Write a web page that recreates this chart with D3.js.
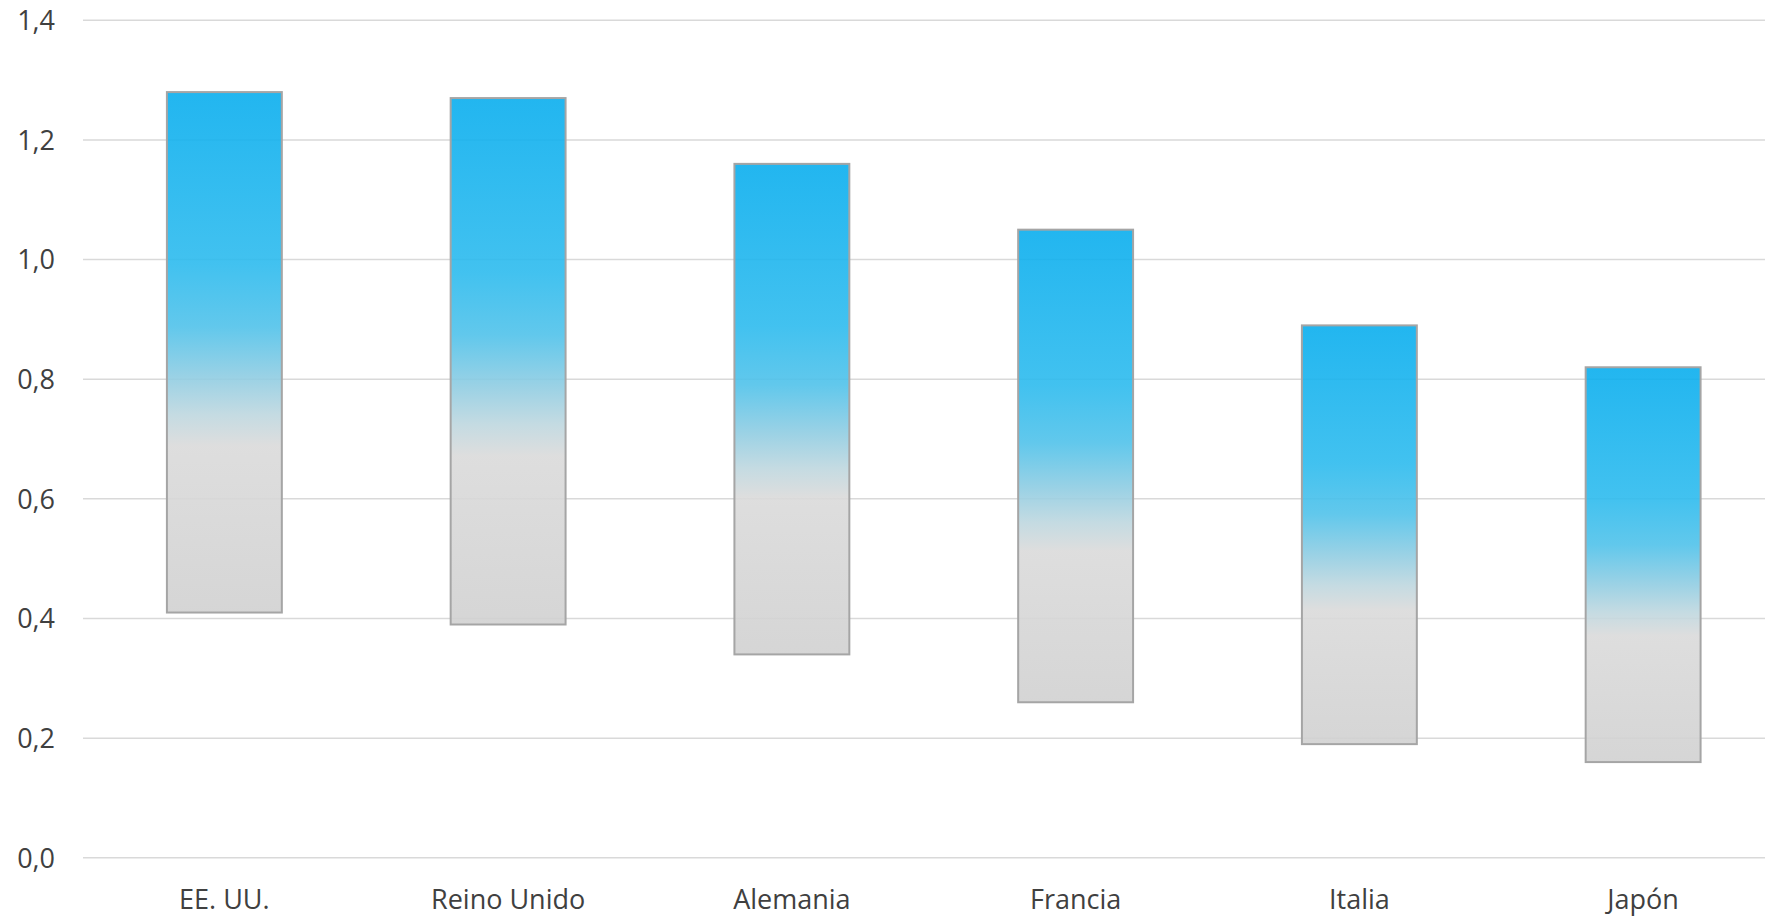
<!DOCTYPE html>
<html>
<head>
<meta charset="utf-8">
<script src="https://cdn.jsdelivr.net/npm/d3@7"></script>
<style>
  html, body { margin: 0; padding: 0; background: #ffffff; }
  svg { display: block; }
  text { font-family: "Open Sans", "DejaVu Sans", sans-serif; fill: #404040; }
</style>
</head>
<body>
<svg id="chart" width="1765" height="916"></svg>
<script>
// Data
const categories = ["EE. UU.", "Reino Unido", "Alemania", "Francia", "Italia", "Japón"];
const highValues = [1.28, 1.27, 1.16, 1.05, 0.89, 0.82];
const lowValues  = [0.41, 0.39, 0.34, 0.26, 0.19, 0.16];
const yTicks = [0, 0.2, 0.4, 0.6, 0.8, 1.0, 1.2, 1.4];

const W = 1765, H = 916;
const svg = d3.select("#chart");

const x = d3.scaleBand()
  .domain(categories)
  .range([82.5, 1785])
  .paddingInner(0.595)
  .paddingOuter(0.2975);

const y = d3.scaleLinear().domain([0, 1.4]).range([857.8, 20.3]);

// gradient
const defs = svg.append("defs");
const grad = defs.append("linearGradient")
  .attr("id", "barGrad")
  .attr("x1", 0).attr("y1", 0).attr("x2", 0).attr("y2", 1);
[
  [0.00, "#0aaeee"],
  [0.33, "#2dbbee"],
  [0.45, "#50c2ea"],
  [0.55, "#91cde2"],
  [0.62, "#bed7df"],
  [0.68, "#dadada"],
  [1.00, "#d1d1d1"]
].forEach(([o, c]) => grad.append("stop").attr("offset", o).attr("stop-color", c));

// gridlines
svg.append("g")
  .selectAll("line")
  .data(yTicks)
  .join("line")
  .attr("x1", 83).attr("x2", W)
  .attr("y1", d => y(d)).attr("y2", d => y(d))
  .attr("stroke", "#d9d9d9")
  .attr("stroke-width", 1.5);

// y-axis labels
const fmt = d => d3.format(".1f")(d).replace(".", ",");
svg.append("g")
  .selectAll("text")
  .data(yTicks)
  .join("text")
  .attr("x", 55)
  .attr("y", d => y(d))
  .attr("dy", "0.36em")
  .attr("text-anchor", "end")
  .attr("font-size", 27)
  .text(fmt);

// bars
const data = categories.map((c, i) => ({ c, hi: highValues[i], lo: lowValues[i] }));
svg.append("g")
  .selectAll("rect")
  .data(data)
  .join("rect")
  .attr("x", d => x(d.c))
  .attr("width", x.bandwidth())
  .attr("y", d => y(d.hi))
  .attr("height", d => y(d.lo) - y(d.hi))
  .attr("fill", "url(#barGrad)")
  .attr("fill-opacity", 0.9)
  .attr("stroke", "#a5a5a5")
  .attr("stroke-width", 2);

// category labels
svg.append("g")
  .selectAll("text")
  .data(categories)
  .join("text")
  .attr("x", d => x(d) + x.bandwidth() / 2)
  .attr("y", 909)
  .attr("text-anchor", "middle")
  .attr("font-size", 27)
  .text(d => d);
</script>
</body>
</html>
